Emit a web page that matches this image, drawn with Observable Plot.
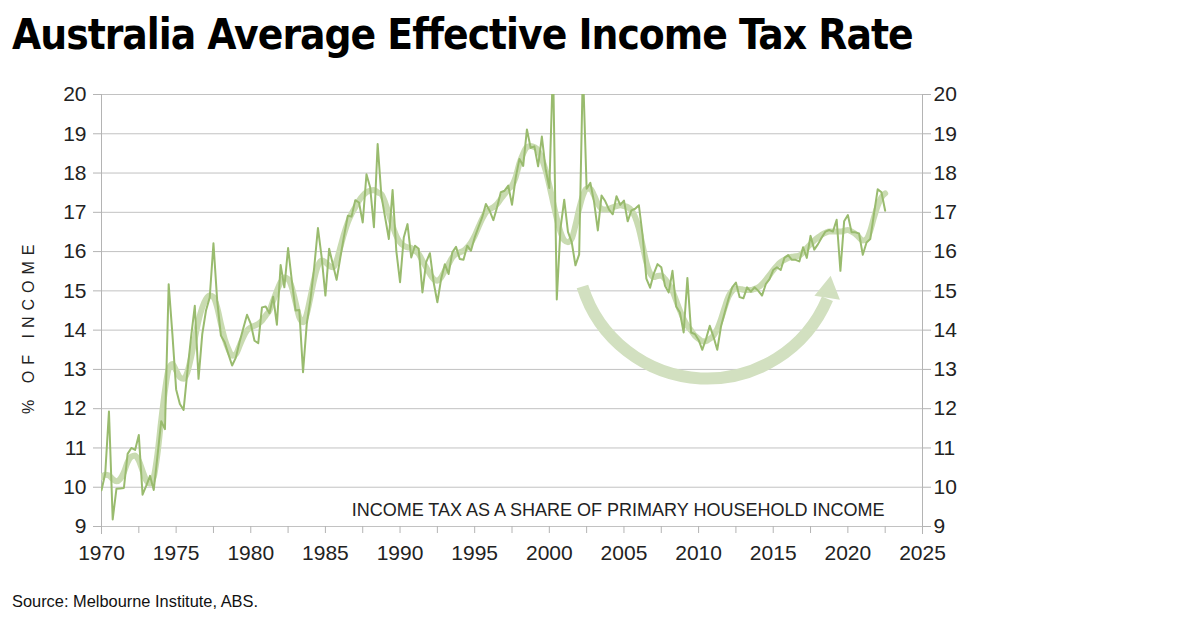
<!DOCTYPE html>
<html><head><meta charset="utf-8">
<script src="https://cdn.jsdelivr.net/npm/d3@7"></script>
<script src="https://cdn.jsdelivr.net/npm/@observablehq/plot@0.6"></script>
<style>
body{margin:0;background:#fff;width:1200px;height:620px;position:relative;overflow:hidden;font-family:"Liberation Sans",Arial,sans-serif;}
#title{position:absolute;left:12px;top:14px;font-family:"Liberation Sans Narrow","DejaVu Sans Condensed",sans-serif;font-weight:700;font-size:42px;letter-spacing:-1px;line-height:1;color:#000;white-space:nowrap;}
#chart{position:absolute;left:0;top:70px;}
#source{position:absolute;left:12px;top:593px;font-size:16.4px;line-height:1;color:#111;}
</style></head><body>
<div id="title">Australia Average Effective Income Tax Rate</div>
<div id="chart"></div>
<div id="source">Source: Melbourne Institute, ABS.</div>
<script>
// Quarterly series, first quarter = 1970.0
const startYear = 1970;
const rawValues = [
  9.92, 10.35, 11.93, 9.18,
  9.96, 9.97, 9.98, 10.85,
  11.0, 10.95, 11.33, 9.81,
  10.04, 10.29, 9.93, 10.8,
  11.68, 11.48, 15.17, 13.9,
  12.49, 12.12, 11.97, 12.93,
  13.82, 14.62, 12.76, 13.9,
  14.5, 14.83, 16.21, 14.75,
  13.86, 13.69, 13.39, 13.1,
  13.3, 13.7, 14.05, 14.39,
  14.16, 13.73, 13.67, 14.58,
  14.6, 14.43, 14.85, 14.14,
  15.66, 15.09, 16.09, 15.26,
  14.5, 14.51, 12.93, 14.16,
  14.79, 15.6, 16.6, 15.85,
  14.88, 16.07, 15.68, 15.28,
  15.85, 16.4, 16.91, 16.89,
  17.31, 17.25, 16.74, 17.97,
  17.63, 16.62, 18.74, 17.42,
  16.87, 16.32, 17.57, 16.02,
  15.22, 16.36, 16.7, 15.85,
  16.15, 16.07, 14.96, 15.73,
  15.96, 15.22, 14.71, 15.3,
  15.68, 15.43, 15.98, 16.12,
  15.81, 15.79, 16.15, 16.02,
  16.36, 16.62, 16.87, 17.21,
  17.04, 16.8, 17.13, 17.51,
  17.55, 17.68, 17.19, 17.89,
  18.36, 18.18, 19.11, 18.64,
  18.68, 18.17, 18.93, 18.11,
  17.62, 20.8, 14.78, 16.6,
  17.32, 16.5, 16.24, 15.65,
  15.93, 20.7, 17.6, 17.75,
  17.26, 16.54, 17.43, 17.28,
  17.07, 16.95, 17.41, 17.19,
  17.3, 16.77, 17.05, 17.09,
  17.18, 16.41, 15.31, 15.08,
  15.44, 15.68, 15.6, 15.13,
  14.96, 15.51, 14.6, 14.45,
  13.94, 15.33, 13.94, 13.9,
  13.75, 13.5, 13.78, 14.11,
  13.83, 13.5, 14.09, 14.45,
  14.79, 15.09, 15.21, 14.84,
  14.81, 15.09, 14.98, 15.09,
  15.0, 14.88, 15.17, 15.3,
  15.53, 15.6, 15.53, 15.84,
  15.91, 15.79, 15.79, 15.75,
  16.11, 15.84, 16.4, 16.05,
  16.19, 16.36, 16.51, 16.55,
  16.51, 16.81, 15.51, 16.77,
  16.93, 16.49, 16.49, 16.46,
  15.92, 16.23, 16.32, 16.96,
  17.59, 17.51, 17.04
];
const trendValues = [
  10.26, 10.32, 10.3, 10.21,
  10.15, 10.21, 10.38, 10.64,
  10.78, 10.81, 10.68, 10.42,
  10.17, 10.09, 10.26, 10.85,
  11.7, 12.46, 13.01, 13.14,
  12.97, 12.8, 12.76, 12.93,
  13.31, 13.78, 14.24, 14.58,
  14.79, 14.88, 14.84, 14.58,
  14.16, 13.78, 13.52, 13.35,
  13.39, 13.6, 13.82, 13.99,
  14.07, 14.11, 14.16, 14.24,
  14.37, 14.5, 14.75, 15.0,
  15.22, 15.34, 15.3, 15.09,
  14.71, 14.33, 14.2, 14.41,
  14.84, 15.3, 15.64, 15.77,
  15.73, 15.64, 15.6, 15.77,
  16.11, 16.45, 16.74, 16.96,
  17.13, 17.3, 17.42, 17.51,
  17.55, 17.57, 17.51, 17.46,
  17.25, 16.96, 16.66, 16.4,
  16.23, 16.15, 16.11, 16.09,
  16.02, 15.94, 15.77, 15.6,
  15.43, 15.3, 15.26, 15.34,
  15.51, 15.68, 15.85, 15.94,
  15.98, 16.02, 16.11, 16.23,
  16.4, 16.62, 16.83, 17.0,
  17.08, 17.13, 17.21, 17.34,
  17.46, 17.59, 17.68, 17.9,
  18.25, 18.5, 18.66, 18.69,
  18.66, 18.58, 18.36, 18.07,
  17.69, 17.26, 16.84, 16.5,
  16.29, 16.24, 16.33, 16.67,
  17.09, 17.43, 17.6, 17.6,
  17.43, 17.22, 17.09, 17.07,
  17.09, 17.13, 17.16, 17.18,
  17.16, 17.13, 17.05, 16.88,
  16.58, 16.16, 15.73, 15.45,
  15.35, 15.38, 15.39, 15.3,
  15.17, 15.0, 14.75, 14.5,
  14.28, 14.11, 13.99, 13.86,
  13.78, 13.72, 13.72, 13.78,
  13.86, 14.03, 14.28, 14.58,
  14.85, 15.0, 15.06, 15.05,
  15.03, 15.02, 15.02, 15.05,
  15.09, 15.17, 15.28, 15.4,
  15.53, 15.64, 15.73, 15.79,
  15.84, 15.87, 15.88, 15.9,
  15.98, 16.09, 16.19, 16.28,
  16.36, 16.43, 16.48, 16.51,
  16.51, 16.51, 16.51, 16.53,
  16.55, 16.51, 16.45, 16.36,
  16.28, 16.32, 16.53, 16.87,
  17.17, 17.38, 17.48
];
const yTicks = [9, 10, 11, 12, 13, 14, 15, 16, 17, 18, 19, 20];
const xTickMarks = [1970, 1972.5, 1975, 1977.5, 1980, 1982.5, 1985, 1987.5, 1990, 1992.5, 1995, 1997.5, 2000, 2002.5, 2005, 2007.5, 2010, 2012.5, 2015, 2017.5, 2020, 2022.5, 2025];
const xTickLabels = [1970, 1975, 1980, 1985, 1990, 1995, 2000, 2005, 2010, 2015, 2020, 2025];
const yLabel = [{x: 1970, y: 14.1, text: "% OF INCOME"}];
const noteText = [{x: 2022.45, y: 9.41, text: "INCOME TAX AS A SHARE OF PRIMARY HOUSEHOLD INCOME"}];
const arrowArc = [{x1: 2002.22, y1: 15.11, x2: 2018.63, y2: 14.8}];
const arrowHead = [{x: 2018.69, y: 15.01}];

const raw = rawValues.map((v, i) => ({date: startYear + i / 4, value: v}));
const trend = trendValues.map((v, i) => ({date: startYear + i / 4, value: v}));

const arrowColor = "#d2e0c0";
const chart = Plot.plot({
  width: 1200,
  height: 510,
  marginLeft: 101,
  marginRight: 278,
  marginTop: 24,
  marginBottom: 54,
  style: {fontFamily: "'Liberation Sans', Arial, sans-serif", background: "#fff", overflow: "visible"},
  x: {domain: [1970, 2025]},
  y: {domain: [9, 20]},
  marks: [
    Plot.gridY(yTicks, {stroke: "#c2c2c2", strokeOpacity: 1}),
    Plot.ruleX([1970, 2025], {stroke: "#b4b4b4", insetBottom: -8}),
    Plot.axisY(yTicks, {anchor: "left", tickSize: 8, tickPadding: 7, stroke: "#b4b4b4", fill: "#222", fontSize: 21, label: null}),
    Plot.axisY(yTicks, {anchor: "right", tickSize: 8, tickPadding: 3, stroke: "#b4b4b4", fill: "#222", fontSize: 21, label: null}),
    Plot.axisX(xTickMarks, {tickSize: 7, stroke: "#b4b4b4", tickFormat: () => "", label: null}),
    Plot.axisX(xTickLabels, {tickSize: 0, tickPadding: 19, fill: "#222", fontSize: 21, tickFormat: d => String(d), label: null}),
    Plot.arrow(arrowArc, {x1: "x1", y1: "y1", x2: "x2", y2: "y2", bend: -70, headLength: 0, stroke: arrowColor, strokeWidth: 12, strokeLinecap: "butt"}),
    Plot.dot(arrowHead, {x: "x", y: "y", symbol: "triangle", r: 9.6, fill: arrowColor, stroke: "none", rotate: 9}),
    Plot.line(trend, {x: "date", y: "value", stroke: "#c9dbb1", strokeWidth: 6, curve: "monotone-x", clip: true}),
    Plot.line(raw, {x: "date", y: "value", stroke: "#99bb6e", strokeWidth: 2, clip: true}),
    Plot.text(noteText, {x: "x", y: "y", text: "text", textAnchor: "end", fontSize: 18, fill: "#222"}),
    Plot.text(yLabel, {x: "x", y: "y", text: "text", rotate: -90, dx: -73, fontSize: 16, fill: "#222"})
  ]
});
document.getElementById("chart").appendChild(chart);
d3.select(chart).selectAll("text").filter(function(){ return this.textContent === yLabel[0].text; }).attr("letter-spacing", "6px");
</script>
</body></html>
